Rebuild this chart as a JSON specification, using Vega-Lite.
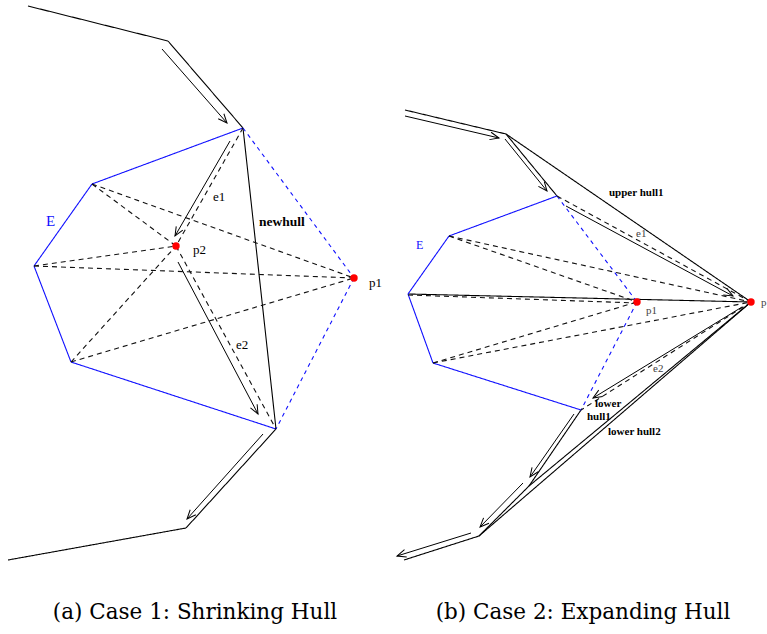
{
  "$schema": "https://vega.github.io/schema/vega-lite/v6.json",
  "width": 767,
  "height": 634,
  "autosize": {"type": "fit", "contains": "padding"},
  "padding": 0,
  "background": "white",
  "config": {"view": {"stroke": null}},
  "datasets": {
    "segments": [
      {"x": 28, "y": 6, "x2": 168, "y2": 41, "kind": "hull"},
      {"x": 168, "y": 41, "x2": 243, "y2": 128, "kind": "hull"},
      {"x": 276, "y": 429, "x2": 186, "y2": 528, "kind": "hull"},
      {"x": 186, "y": 528, "x2": 8, "y2": 560, "kind": "hull"},
      {"x": 243, "y": 128, "x2": 276, "y2": 429, "kind": "hull"},
      {"x": 243, "y": 128, "x2": 92, "y2": 184, "kind": "E"},
      {"x": 92, "y": 184, "x2": 34, "y2": 266, "kind": "E"},
      {"x": 34, "y": 266, "x2": 71, "y2": 362, "kind": "E"},
      {"x": 71, "y": 362, "x2": 276, "y2": 429, "kind": "E"},
      {"x": 243, "y": 128, "x2": 354, "y2": 278, "kind": "bridge"},
      {"x": 354, "y": 278, "x2": 276, "y2": 429, "kind": "bridge"},
      {"x": 243, "y": 128, "x2": 176, "y2": 246, "kind": "sight"},
      {"x": 176, "y": 246, "x2": 276, "y2": 429, "kind": "sight"},
      {"x": 92, "y": 184, "x2": 176, "y2": 246, "kind": "sight"},
      {"x": 92, "y": 184, "x2": 354, "y2": 278, "kind": "sight"},
      {"x": 34, "y": 266, "x2": 176, "y2": 246, "kind": "sight"},
      {"x": 34, "y": 266, "x2": 354, "y2": 278, "kind": "sight"},
      {"x": 71, "y": 362, "x2": 176, "y2": 246, "kind": "sight"},
      {"x": 71, "y": 362, "x2": 354, "y2": 278, "kind": "sight"},

      {"x": 405, "y": 110, "x2": 506, "y2": 134, "kind": "hull"},
      {"x": 506, "y": 134, "x2": 557, "y2": 196, "kind": "hull"},
      {"x": 506, "y": 134, "x2": 751, "y2": 302, "kind": "hull"},
      {"x": 408, "y": 294, "x2": 751, "y2": 302, "kind": "hull"},
      {"x": 751, "y": 302, "x2": 529, "y2": 486, "kind": "hull"},
      {"x": 751, "y": 302, "x2": 479, "y2": 536, "kind": "hull"},
      {"x": 581, "y": 410, "x2": 529, "y2": 486, "kind": "hull"},
      {"x": 529, "y": 486, "x2": 479, "y2": 536, "kind": "hull"},
      {"x": 479, "y": 536, "x2": 404, "y2": 560, "kind": "hull"},
      {"x": 557, "y": 196, "x2": 449, "y2": 236, "kind": "E"},
      {"x": 449, "y": 236, "x2": 408, "y2": 294, "kind": "E"},
      {"x": 408, "y": 294, "x2": 433, "y2": 363, "kind": "E"},
      {"x": 433, "y": 363, "x2": 581, "y2": 410, "kind": "E"},
      {"x": 557, "y": 196, "x2": 637, "y2": 302, "kind": "bridge"},
      {"x": 637, "y": 302, "x2": 581, "y2": 410, "kind": "bridge"},
      {"x": 557, "y": 196, "x2": 751, "y2": 302, "kind": "sight"},
      {"x": 751, "y": 302, "x2": 581, "y2": 410, "kind": "sight"},
      {"x": 449, "y": 236, "x2": 637, "y2": 302, "kind": "sight"},
      {"x": 449, "y": 236, "x2": 751, "y2": 302, "kind": "sight"},
      {"x": 408, "y": 295, "x2": 637, "y2": 303, "kind": "sight"},
      {"x": 433, "y": 363, "x2": 637, "y2": 302, "kind": "sight"},
      {"x": 433, "y": 363, "x2": 751, "y2": 302, "kind": "sight"}
    ],
    "arrows": [
      {"x": 162, "y": 49, "x2": 227, "y2": 123, "heading": 48.7},
      {"x": 230, "y": 141, "x2": 175, "y2": 236, "heading": 120.1},
      {"x": 178, "y": 262, "x2": 258, "y2": 414, "heading": 62.2},
      {"x": 263, "y": 434, "x2": 187, "y2": 519, "heading": 131.8},
      {"x": 405, "y": 116, "x2": 499, "y2": 138, "heading": 13.2},
      {"x": 505, "y": 139, "x2": 547, "y2": 191, "heading": 51.1},
      {"x": 566, "y": 206, "x2": 733, "y2": 296, "heading": 28.3},
      {"x": 742, "y": 307, "x2": 593, "y2": 398, "heading": 148.6},
      {"x": 574, "y": 414, "x2": 530, "y2": 477, "heading": 124.9},
      {"x": 523, "y": 483, "x2": 480, "y2": 527, "heading": 134.3},
      {"x": 471, "y": 533, "x2": 397, "y2": 556, "heading": 162.7}
    ],
    "points": [
      {"x": 176, "y": 246, "name": "p2"},
      {"x": 354, "y": 278, "name": "p1"},
      {"x": 637, "y": 302, "name": "p1"},
      {"x": 751, "y": 302, "name": "p"}
    ],
    "labels": [
      {"txt": "E", "x": 46, "y": 221, "style": "leftE"},
      {"txt": "e1", "x": 213, "y": 197, "style": "left"},
      {"txt": "p2", "x": 193, "y": 250, "style": "left"},
      {"txt": "p1", "x": 369, "y": 283, "style": "left"},
      {"txt": "e2", "x": 236, "y": 345, "style": "left"},
      {"txt": "newhull", "x": 259, "y": 222, "style": "leftBold"},
      {"txt": "E", "x": 416, "y": 245, "style": "rightE"},
      {"txt": "e1", "x": 636, "y": 234, "style": "right"},
      {"txt": "p1", "x": 646, "y": 311, "style": "right"},
      {"txt": "p", "x": 761, "y": 303, "style": "right"},
      {"txt": "e2", "x": 653, "y": 369, "style": "right"},
      {"txt": "upper hull1", "x": 609, "y": 193, "style": "rightBold"},
      {"txt": "lower", "x": 595, "y": 404, "style": "rightBold"},
      {"txt": "hull1", "x": 587, "y": 417, "style": "rightBold"},
      {"txt": "lower hull2", "x": 608, "y": 432, "style": "rightBold"}
    ],
    "captions": [
      {"txt": "(a) Case 1: Shrinking Hull", "x": 195, "y": 613},
      {"txt": "(b) Case 2: Expanding Hull", "x": 583, "y": 613}
    ]
  },
  "layer": [
    {
      "data": {"name": "segments"},
      "mark": {"type": "rule", "strokeWidth": 1.1},
      "encoding": {
        "x": {"field": "x", "type": "quantitative", "scale": {"domain": [0, 767], "nice": false, "zero": false}, "axis": null},
        "y": {"field": "y", "type": "quantitative", "scale": {"domain": [0, 634], "nice": false, "zero": false, "reverse": true}, "axis": null},
        "x2": {"field": "x2"},
        "y2": {"field": "y2"},
        "color": {"field": "kind", "type": "nominal", "legend": null,
          "scale": {"domain": ["hull", "sight", "E", "bridge"], "range": ["#000000", "#111111", "#1010ff", "#1010ff"]}},
        "strokeDash": {"field": "kind", "type": "nominal", "legend": null,
          "scale": {"domain": ["hull", "sight", "E", "bridge"], "range": [[1, 0], [5, 4], [1, 0], [4, 4]]}}
      }
    },
    {
      "data": {"name": "arrows"},
      "mark": {"type": "rule", "strokeWidth": 1, "color": "#000000"},
      "encoding": {
        "x": {"field": "x", "type": "quantitative"},
        "y": {"field": "y", "type": "quantitative"},
        "x2": {"field": "x2"},
        "y2": {"field": "y2"}
      }
    },
    {
      "data": {"name": "arrows"},
      "mark": {"type": "point", "shape": "M-1,-0.42L0,0L-1,0.42", "filled": false, "stroke": "#000000", "strokeWidth": 1, "size": 324, "opacity": 1},
      "encoding": {
        "x": {"field": "x2", "type": "quantitative"},
        "y": {"field": "y2", "type": "quantitative"},
        "angle": {"field": "heading", "type": "quantitative", "scale": null}
      }
    },
    {
      "data": {"name": "points"},
      "mark": {"type": "point", "shape": "circle", "filled": true, "color": "#ff0000", "size": 55, "opacity": 1},
      "encoding": {
        "x": {"field": "x", "type": "quantitative"},
        "y": {"field": "y", "type": "quantitative"}
      }
    },
    {
      "data": {"name": "labels"},
      "transform": [{"filter": "datum.style === 'left'"}],
      "mark": {"type": "text", "font": "Liberation Serif", "fontSize": 13, "align": "left", "baseline": "middle", "color": "#000000"},
      "encoding": {
        "x": {"field": "x", "type": "quantitative"},
        "y": {"field": "y", "type": "quantitative"},
        "text": {"field": "txt"}
      }
    },
    {
      "data": {"name": "labels"},
      "transform": [{"filter": "datum.style === 'leftE'"}],
      "mark": {"type": "text", "font": "Liberation Serif", "fontSize": 15, "align": "left", "baseline": "middle", "color": "#1010ff"},
      "encoding": {
        "x": {"field": "x", "type": "quantitative"},
        "y": {"field": "y", "type": "quantitative"},
        "text": {"field": "txt"}
      }
    },
    {
      "data": {"name": "labels"},
      "transform": [{"filter": "datum.style === 'leftBold'"}],
      "mark": {"type": "text", "font": "Liberation Serif", "fontSize": 13.5, "fontWeight": "bold", "align": "left", "baseline": "middle", "color": "#000000"},
      "encoding": {
        "x": {"field": "x", "type": "quantitative"},
        "y": {"field": "y", "type": "quantitative"},
        "text": {"field": "txt"}
      }
    },
    {
      "data": {"name": "labels"},
      "transform": [{"filter": "datum.style === 'right'"}],
      "mark": {"type": "text", "font": "Liberation Serif", "fontSize": 11, "align": "left", "baseline": "middle", "color": "#444444"},
      "encoding": {
        "x": {"field": "x", "type": "quantitative"},
        "y": {"field": "y", "type": "quantitative"},
        "text": {"field": "txt"}
      }
    },
    {
      "data": {"name": "labels"},
      "transform": [{"filter": "datum.style === 'rightE'"}],
      "mark": {"type": "text", "font": "Liberation Serif", "fontSize": 12, "align": "left", "baseline": "middle", "color": "#1010ff"},
      "encoding": {
        "x": {"field": "x", "type": "quantitative"},
        "y": {"field": "y", "type": "quantitative"},
        "text": {"field": "txt"}
      }
    },
    {
      "data": {"name": "labels"},
      "transform": [{"filter": "datum.style === 'rightBold'"}],
      "mark": {"type": "text", "font": "Liberation Serif", "fontSize": 11, "fontWeight": "bold", "align": "left", "baseline": "middle", "color": "#000000"},
      "encoding": {
        "x": {"field": "x", "type": "quantitative"},
        "y": {"field": "y", "type": "quantitative"},
        "text": {"field": "txt"}
      }
    },
    {
      "data": {"name": "captions"},
      "mark": {"type": "text", "font": "DejaVu Serif", "fontSize": 21.5, "align": "center", "baseline": "middle", "color": "#000000"},
      "encoding": {
        "x": {"field": "x", "type": "quantitative"},
        "y": {"field": "y", "type": "quantitative"},
        "text": {"field": "txt"}
      }
    }
  ]
}
